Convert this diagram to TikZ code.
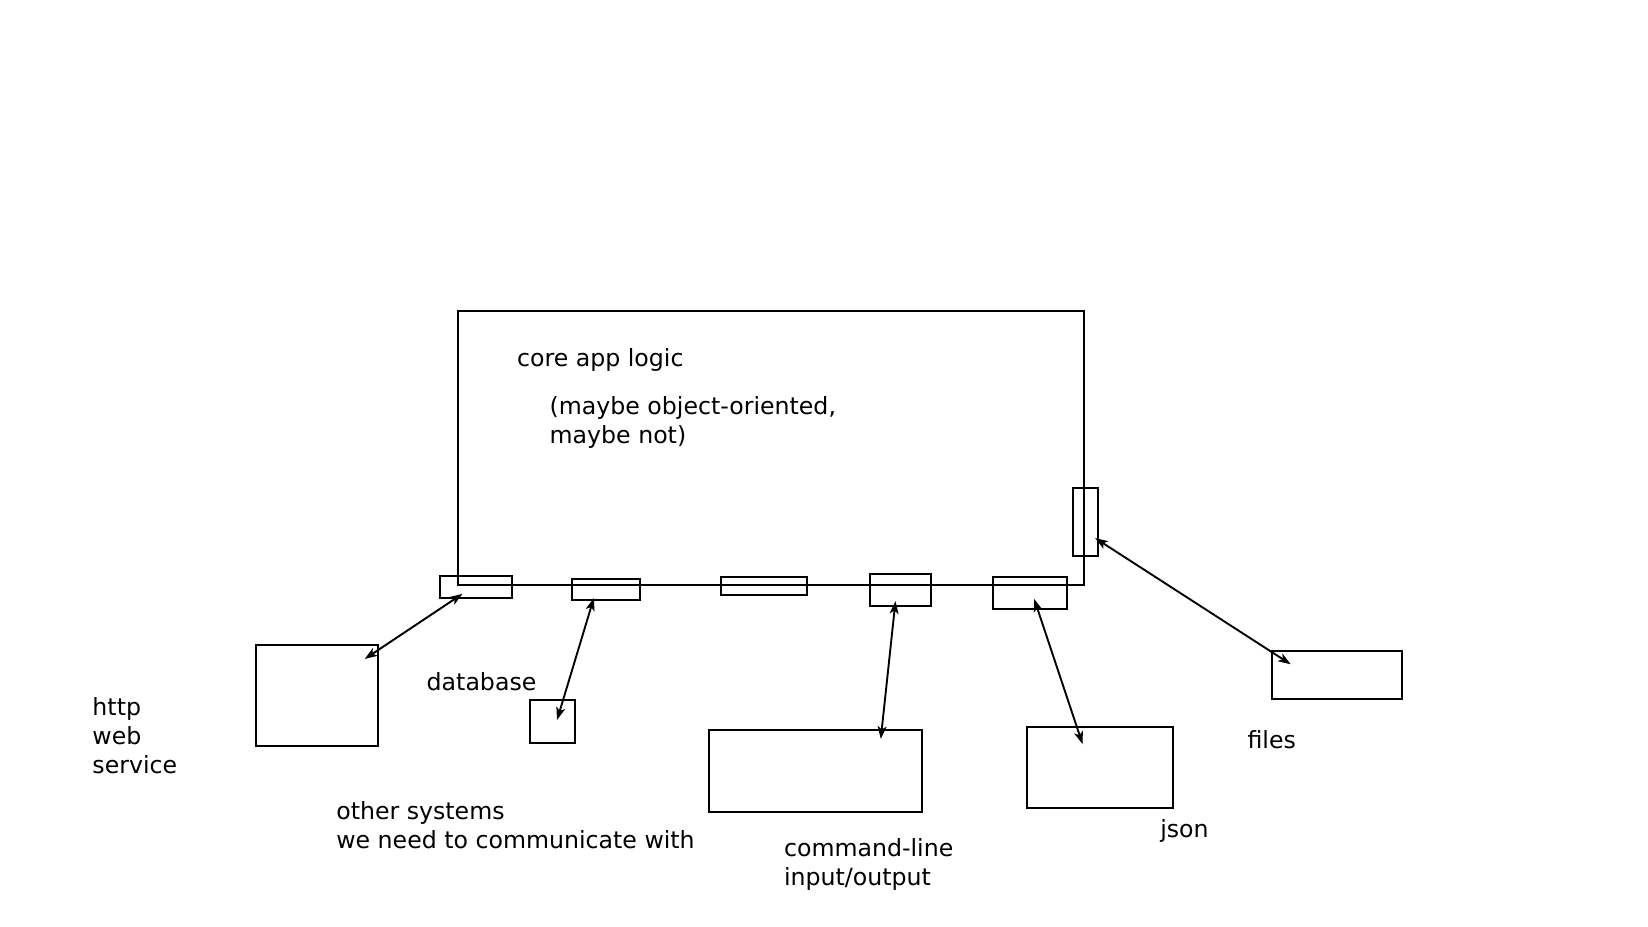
\documentclass[tikz,border=0pt]{standalone}
\usepackage{fontspec}
\setmainfont{DejaVu Sans}
\usetikzlibrary{arrows.meta}
\begin{document}
\begin{tikzpicture}[x=1pt,y=-1pt,
  box/.style={draw=black,line width=1.9pt,inner sep=0pt,outer sep=0pt},
  lbl/.style={inner sep=0pt,outer sep=0pt,anchor=base west,align=left,font=\fontsize{22.5}{27.5}\selectfont},
  link/.style={line width=1.8pt,{Stealth[length=12pt,width=8.5pt,inset=3pt]}-{Stealth[length=12pt,width=8.5pt,inset=3pt]}}]
\useasboundingbox (0,0) rectangle (1568,882);
% main box
\node[box,minimum width=595pt,minimum height=261pt] (core) at (733.5,426.5) {};
% ports
\node[box,minimum width=68pt,minimum height=21pt] (p1) at (453,558.5) {};
\node[box,minimum width=65pt,minimum height=20pt] (p2) at (576.5,561) {};
\node[box,minimum width=82pt,minimum height=17pt] (p3) at (727,557.5) {};
\node[box,minimum width=58pt,minimum height=31pt] (p4) at (857,561.5) {};
\node[box,minimum width=70pt,minimum height=30pt] (p5) at (980,564) {};
\node[box,minimum width=24pt,minimum height=65pt] (pr) at (1033,496.5) {};
% outer systems
\node[box,minimum width=116pt,minimum height=96pt] (http) at (302,662) {};
\node[box,minimum width=43pt,minimum height=41pt] (db) at (525.5,686.5) {};
\node[box,minimum width=202pt,minimum height=78pt] (cmd) at (776,734) {};
\node[box,minimum width=139pt,minimum height=77pt] (json) at (1046.5,730.5) {};
\node[box,minimum width=124pt,minimum height=46pt] (files) at (1272,642) {};
% connectors
\draw[link] ([shift={(-13,-4)}]p1.south) -- ([shift={(45,13)}]http.north);
\draw[link] ([shift={(-11.5,-2)}]p2.south) -- ([shift={(4.5,-1.5)}]db.center);
\draw[link] ([shift={(-5,-5)}]p4.south) -- ([shift={(62,8)}]cmd.north);
\draw[link] ([shift={(4,-9)}]p5.south) -- ([shift={(-16.5,16)}]json.north);
\draw[link] ([shift={(-3,15.5)}]pr.east) -- ([shift={(-44,13)}]files.north);
% labels (base anchor = baseline of last line)
\node[lbl] (tcore) at (492,349) {core app logic};
\node[lbl] (tmaybe) at (523,421.5) {(maybe object-oriented,\\maybe not)};
\node[lbl] (tdb) at (406,657) {database};
\node[lbl] (thttp) at (88,736) {http\\web\\service};
\node[lbl] (tother) at (320,807.5) {other systems\\we need to communicate with};
\node[lbl] (tcmd) at (746,842.5) {command-line\\input/output};
\node[lbl] (tjson) at (1104,797) {json};
\node[lbl] (tfiles) at (1187,712) {files};
\end{tikzpicture}
\end{document}
